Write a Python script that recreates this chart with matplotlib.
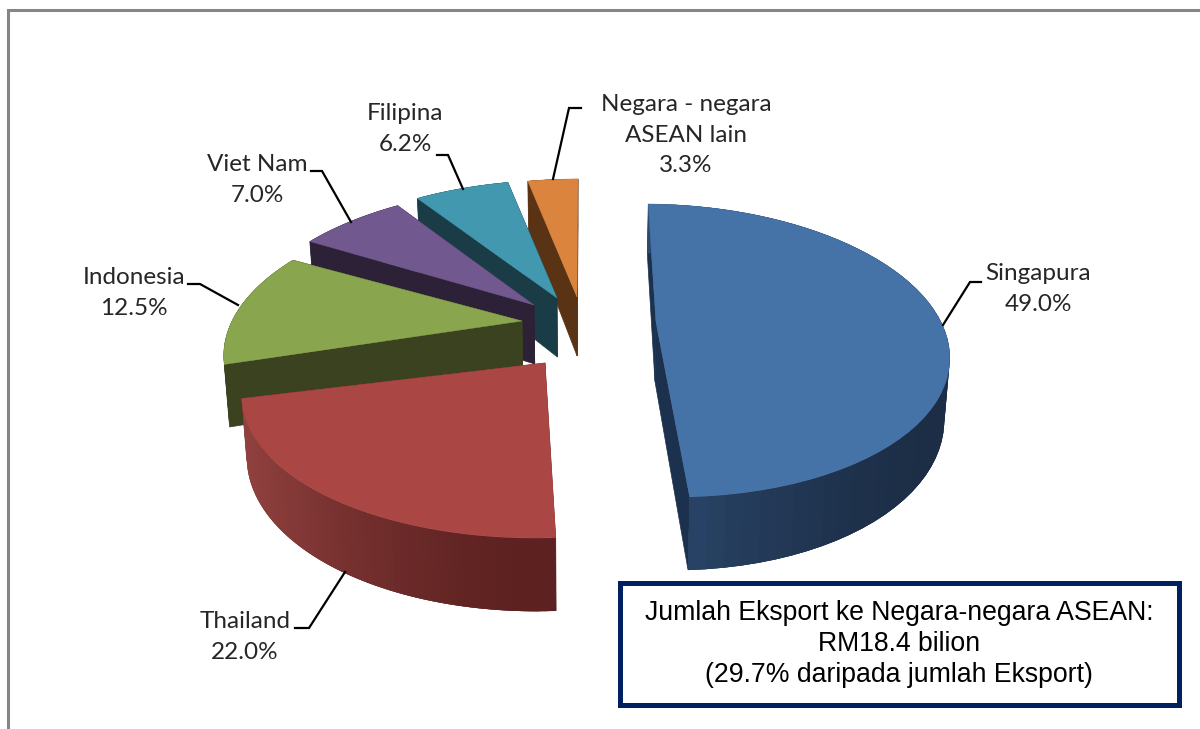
import numpy as np
import matplotlib
matplotlib.use("Agg")
import matplotlib.pyplot as plt
from matplotlib.patches import Polygon, Rectangle

# =========================
# Data
# =========================

countries = ["Singapura", "Thailand", "Indonesia", "Viet Nam", "Filipina", "Negara - negara\nASEAN lain"]
shares = [49.0, 22.0, 12.5, 7.0, 6.2, 3.3]
box_lines = [
    "Jumlah Eksport ke Negara-negara ASEAN:",
    "RM18.4 bilion",
    "(29.7% daripada jumlah Eksport)",
]

# =========================
# Styles
# =========================

top_colors = ["#4572A7", "#AA4643", "#89A54E", "#71588F", "#4198AF", "#DB843D"]
side_colors = ["#1C314E", "#6A2A28", "#3A421F", "#2D2138", "#1A3C47", "#5A3314"]
rim_dark = ["#1C2D45", "#5C2120", "#3A421F", "#2D2138", "#1A3C47", "#5A3314"]
rim_light = ["#2C4A70", "#924240", "#3A421F", "#2D2138", "#1A3C47", "#5A3314"]

# where each exploded slice has its tip (pixels), how wide it is and how far it is turned
tips = [(656, 322), (545, 363), (522, 321), (534, 305), (557, 298), (577, 297)]
widths = [285, 296, 290, 288, 290, 290]
turns = [1.0, 0.5, -2.5, -1.0, -0.75, 0.0]

CX, B, D, THICK, SHRINK = 583, 141, 5.14, 59, 0.985

label_pos = [(1038, 289), (245, 637), (134, 293), (257, 180), (405, 129), (686, 135)]
leaders = [
    [(943, 325), (970, 282), (981, 282)],
    [(345, 572), (309, 628), (295, 628)],
    [(238, 305), (200, 284), (188, 284)],
    [(351, 222), (322, 171), (311, 171)],
    [(463, 189), (448, 155), (437, 155)],
    [(553, 179), (569, 108), (581, 108)],
]


def project(i, x, y, lower=False):
    # perspective of the pie plane, x and y are on the unit disk round the tip
    s = D / (D + y)
    px = CX + (tips[i][0] - CX) * s + widths[i] * x * s
    py = tips[i][1] - B * y * s
    if lower:
        px = CX + (px - CX) * SHRINK
        py = py + THICK * s
    return px, py


def mix(c1, c2, f):
    a = np.array(matplotlib.colors.to_rgb(c1))
    b = np.array(matplotlib.colors.to_rgb(c2))
    return tuple(a + (b - a) * f)


def draw_slice(ax, i, start, end):
    th = np.radians(np.linspace(start + turns[i], end + turns[i], 60))
    xs, ys = np.sin(th), np.cos(th)

    upper = [project(i, x, y) for x, y in zip(xs, ys)]
    under = [project(i, x, y, True) for x, y in zip(xs, ys)]
    tip_up = project(i, 0, 0)
    tip_low = project(i, 0, 0, True)

    # straight sides first
    for k in (0, -1):
        ax.add_patch(Polygon([tip_up, upper[k], under[k], tip_low],
                             fc=side_colors[i], ec=side_colors[i], lw=0.5))

    # round side, back to front, strips overlap so no seams show
    px = np.array([p[0] for p in upper])
    order = np.argsort(-ys[:-1])
    for k in order:
        f = (px.max() - px[k]) / (px.max() - px.min())
        c = mix(rim_dark[i], rim_light[i], f ** 1.5)
        k2 = min(k + 3, len(upper) - 1)
        ax.add_patch(Polygon(upper[k:k2 + 1] + under[k:k2 + 1][::-1], fc=c, ec="none", lw=0))

    ax.add_patch(Polygon([tip_up] + upper, fc=top_colors[i], ec=top_colors[i], lw=0.3))


# =========================
# Plot
# =========================

fig = plt.figure(figsize=(12, 7.29), dpi=100)
ax = fig.add_axes([0, 0, 1, 1])
ax.set_xlim(0, 1200)
ax.set_ylim(729, 0)
ax.axis("off")

# chart frame
ax.plot([8, 8, 1200], [729, 10, 10], color="#868686", lw=2.2, solid_joinstyle="miter")

angles = np.cumsum([0] + shares) * 3.6
for i in [5, 4, 3, 2, 1, 0]:
    draw_slice(ax, i, angles[i], angles[i + 1])

for i, name in enumerate(countries):
    ax.plot(*zip(*leaders[i]), color="black", lw=1.6, solid_joinstyle="miter")
    ax.text(label_pos[i][0], label_pos[i][1], f"{name}\n{shares[i]:.1f}%",
            ha="center", va="center", fontsize=17.5, family="Lato", color="#262626",
            linespacing=1.55)

ax.add_patch(Rectangle((620, 583), 559, 122, fc="white", ec="#002060", lw=3.6))
ax.text(899, 644, "\n".join(box_lines), ha="center", va="center", fontsize=19.2,
        family="Liberation Sans", color="black", linespacing=1.24)

plt.savefig("out.png", dpi=100)
